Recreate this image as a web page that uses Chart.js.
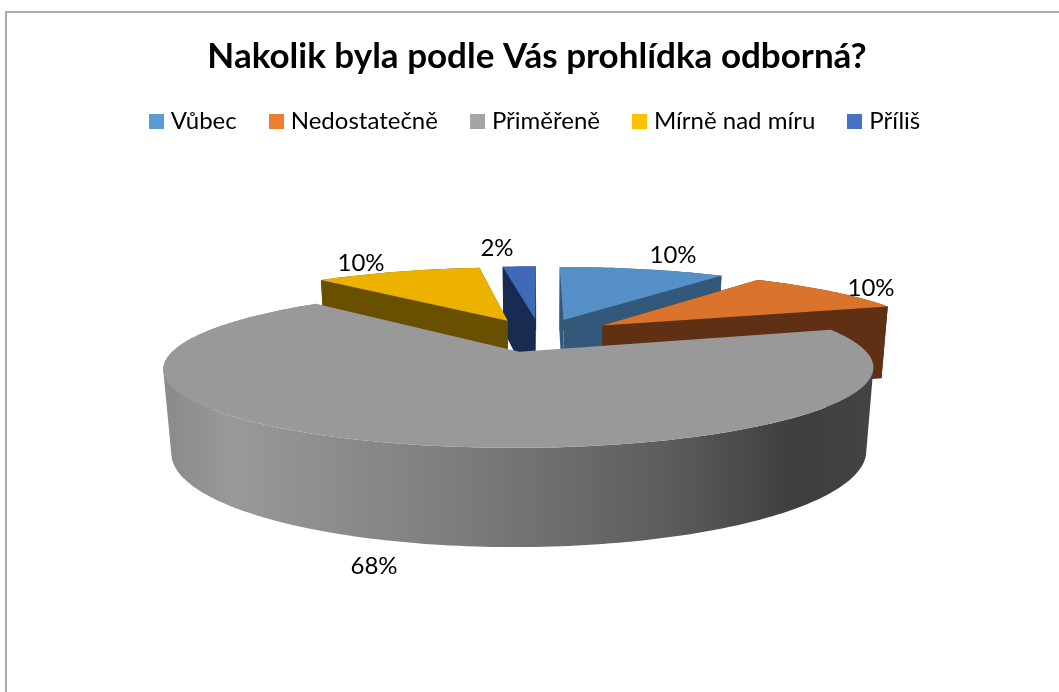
<!DOCTYPE html>
<html><head><meta charset="utf-8">
<style>
html,body{margin:0;padding:0;background:#fff;overflow:hidden;width:1059px;height:692px}
#frame{position:absolute;left:5px;top:11px;width:1100px;height:800px;border-top:2px solid #ababab;border-left:2px solid #ababab}
#wrap{position:absolute;left:0;top:0;width:1060px;height:680px}
</style>
<script src="https://cdn.jsdelivr.net/npm/chart.js@4"></script>
</head><body>
<div id="frame"><div id="wrap"><canvas id="c"></canvas></div></div>
<script>
const titleText = 'Nakolik byla podle Vás prohlídka odborná?';
const categories = ['Vůbec','Nedostatečně','Přiměřeně','Mírně nad míru','Příliš'];
const shares = [10,10,68,10,2];
const legendColors = ['#5B9BD5','#ED7D31','#A5A5A5','#FFC000','#4472C4'];
const topColors = ['#5590C8','#DA732C','#999999','#EDB200','#3F6AB8'];
const sideColors = ['#33587A','#5F3013','#000000','#695000','#182B50'];
const labelPositions = [[666,242],[864,275],[367,553],[354,250],[490,235]];
const drawOrder = [4,3,0,1,2];
const grayWallStops = [[0,'#8c8c8c'],[0.08,'#999999'],[0.4,'#7d7d7d'],[0.7,'#5c5c5c'],[0.88,'#3e3e3e'],[1,'#444444']];

// perspective of the tilted pie
const view = {cx:533, cy:322, S:331, T:69, D:79, k:0.2, m:0.02, explode:0.24};
function project(u,v,z){
  const w = 1 - view.k*v + view.m*z;
  return [view.cx + view.S*u/w, view.cy + (view.T*v + view.D*z)/w];
}
function rim(a,mid,r,z){
  return project(r*Math.cos(a)+view.explode*Math.cos(mid), r*Math.sin(a)+view.explode*Math.sin(mid), z);
}
function addQuad(ctx,q){
  let area=0;
  q.forEach((p,i)=>{const n=q[(i+1)%q.length]; area+=p[0]*n[1]-n[0]*p[1];});
  const pts = area<0 ? q.slice().reverse() : q;
  pts.forEach((p,i)=> i?ctx.lineTo(p[0],p[1]):ctx.moveTo(p[0],p[1]));
  ctx.closePath();
}
function poly(ctx,pts,fill){
  ctx.beginPath();
  addQuad(ctx,pts);
  ctx.fillStyle=fill; ctx.fill();
}
const pie3d = {
  id:'pie3d',
  beforeDatasetsDraw(chart){
    const ctx = chart.ctx, arcs = chart.getDatasetMeta(0).data;
    ctx.save();
    drawOrder.forEach(i=>{
      const arc = arcs[i], a0=arc.startAngle, a1=arc.endAngle, mid=(a0+a1)/2;
      const n = Math.max(4,Math.ceil((a1-a0)/0.02));
      const top=[], bot=[];
      for(let j=0;j<=n;j++){
        const a=a0+(a1-a0)*j/n;
        top.push(rim(a,mid,1,0)); bot.push(rim(a,mid,1,1));
      }
      const apexT=rim(a0,mid,0,0), apexB=rim(a0,mid,0,1);
      let side = sideColors[i];
      if(i===2){
        const g=ctx.createLinearGradient(view.cx-365,0,view.cx+340,0);
        grayWallStops.forEach(s=>g.addColorStop(s[0],s[1]));
        side=g;
      }
      if(i!==2){
        poly(ctx,[apexT,top[0],bot[0],apexB],side);
        poly(ctx,[apexT,top[n],bot[n],apexB],side);
      }
      ctx.beginPath();
      for(let j=0;j<n;j++) addQuad(ctx,[top[j],top[j+1],bot[j+1],bot[j]]);
      ctx.fillStyle=side; ctx.fill();
      poly(ctx,[apexT].concat(top),topColors[i]);
    });
    ctx.restore();
    return false;
  },
  afterDraw(chart){
    const ctx=chart.ctx, total=shares.reduce((a,b)=>a+b,0);
    ctx.save();
    ctx.font='24px Lato'; ctx.fillStyle='#000'; ctx.textAlign='center'; ctx.textBaseline='middle';
    shares.forEach((s,i)=>ctx.fillText(Math.round(100*s/total)+'%',labelPositions[i][0],labelPositions[i][1]));
    ctx.restore();
  }
};
function swatch(color){
  const c=document.createElement('canvas'); c.width=15; c.height=15;
  const x=c.getContext('2d'); x.fillStyle=color; x.fillRect(0,0,15,15);
  return c;
}
new Chart(document.getElementById('c'),{
  type:'pie',
  data:{labels:categories,datasets:[{data:shares,backgroundColor:legendColors,borderWidth:0}]},
  plugins:[pie3d],
  options:{
    responsive:true,maintainAspectRatio:false,animation:false,
    layout:{padding:{top:23}},
    plugins:{
      title:{display:true,text:titleText,color:'#000',font:{family:'Lato',size:35,weight:'bold'},padding:{top:0,bottom:-6}},
      legend:{position:'top',labels:{
        color:'#000',font:{family:'Lato',size:24},usePointStyle:true,boxWidth:5,boxHeight:15,padding:37,
        generateLabels(chart){
          return Chart.overrides.pie.plugins.legend.labels.generateLabels(chart)
            .map((l,i)=>Object.assign(l,{pointStyle:swatch(legendColors[i])}));
        }
      }},
      tooltip:{enabled:false}
    }
  }
});
</script>
</body></html>
